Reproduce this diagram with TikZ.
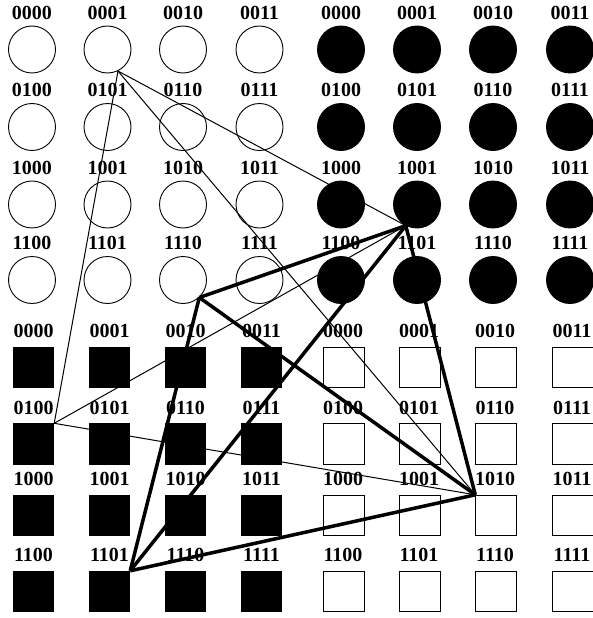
\documentclass[tikz,border=0pt]{standalone}
\usepackage{fontspec}
\setmainfont{Liberation Serif}
\begin{document}
\begin{tikzpicture}[x=1pt,y=-1pt,
  lab/.style={font=\fontsize{20}{20}\selectfont\bfseries, inner sep=0pt, anchor=center},
  circ/.style={circle, draw=black, line width=0.9pt, minimum size=47pt, inner sep=0pt},
  opencirc/.style={circ},
  fullcirc/.style={circ, fill=black},
  sqr/.style={rectangle, draw=black, line width=0.9pt, minimum size=40.5pt, inner sep=0pt},
  opensq/.style={sqr},
  fullsq/.style={sqr, fill=black},
  thinedge/.style={line width=1pt},
  thickedge/.style={line width=3.5pt, line join=round}
]
\useasboundingbox (0,0) rectangle (592,618);
% circles
\foreach \ry/\rb in {49.5/00,127/01,204.5/10,280/11}{
  \foreach \cx/\cb in {32/00,107.5/01,183/10,259.5/11}{
    \node[opencirc] (oc\rb\cb) at (\cx,\ry) {};
    \node[lab] (loc\rb\cb) at (\cx,\ry-37) {\rb\cb};
  }
  \foreach \cx/\cb in {341/00,417/01,493/10,570/11}{
    \node[fullcirc] (fc\rb\cb) at (\cx,\ry) {};
    \node[lab] (lfc\rb\cb) at (\cx,\ry-37) {\rb\cb};
  }
}
% squares
\foreach \ry/\rb in {367.5/00,444/01,515.5/10,591.5/11}{
  \foreach \cx/\cb in {33.5/00,109.5/01,185.5/10,261.5/11}{
    \node[fullsq] (fs\rb\cb) at (\cx,\ry) {};
    \node[lab] (lfs\rb\cb) at (\cx,\ry-36.5) {\rb\cb};
  }
  \foreach \cx/\cb in {344/00,420/01,496/10,573/11}{
    \node[opensq] (os\rb\cb) at (\cx,\ry) {};
    \node[lab] (los\rb\cb) at (\cx-1,\ry-36.5) {\rb\cb};
  }
}
% hub points
\coordinate (A) at (oc0001.-64);
\coordinate (B) at (fc1001.-118);
\coordinate (C) at (oc1110.-47);
\coordinate (D) at (fs0100.north east);
\coordinate (E) at (os1010.north west);
\coordinate (F) at (fs1101.north east);
% thin edges
\draw[thinedge] (A) -- (D);
\draw[thinedge] (A) -- (B);
\draw[thinedge] (A) -- (E);
\draw[thinedge] (D) -- (B);
\draw[thinedge] (D) -- (E);
% thick edges
\draw[thickedge] (B) -- (C);
\draw[thickedge] (B) -- (E);
\draw[thickedge] (B) -- (F);
\draw[thickedge] (C) -- (E);
\draw[thickedge] (C) -- (F);
\draw[thickedge] (E) -- (F);
\end{tikzpicture}
\end{document}
